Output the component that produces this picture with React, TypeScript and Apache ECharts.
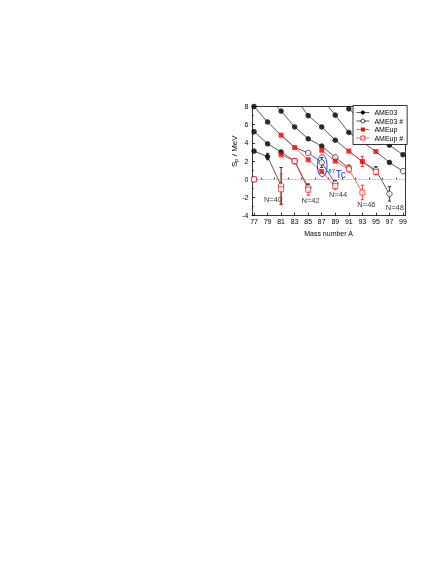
import React, { useEffect, useRef } from "react";
import * as echarts from "echarts";

const FONT = '"Liberation Sans", Arial, Helvetica, sans-serif';

// x-axis tick labels (odd mass numbers) and minor tick positions
const massTicks = [77, 79, 81, 83, 85, 87, 89, 91, 93, 95, 97, 99];
const massMinorTicks = [78, 80, 82, 84, 86, 88, 90, 92, 94, 96, 98];

// AME03 isotone chains: [A, Sp (MeV), kind]; kind 0 = measured, 1 = estimated (#), 2 = on the line only (covered / off scale)
const ame03N38 = [[77, 0.0, 1]];
const ame03N40 = [[77, 3.1, 0], [79, 2.5, 0], [81, -0.7, 1]];
const ame03N42 = [[77, 5.25, 0], [79, 3.9, 0], [81, 3.0, 0], [83, 2.0, 1], [85, -0.9, 1]];
const ame03N44 = [[77, 8.0, 0], [79, 6.3, 0], [81, 4.85, 2], [83, 3.5, 2], [85, 2.9, 1], [87, 1.85, 1], [89, -0.45, 1]];
const ame03N46 = [[79, 9.1, 2], [81, 7.5, 0], [83, 5.75, 0], [85, 4.45, 0], [87, 3.65, 0], [89, 2.4, 1], [91, 1.25, 1]];
const ame03N48 = [[83, 9.0, 2], [85, 7.0, 0], [87, 5.75, 0], [89, 4.3, 0], [91, 3.1, 2], [93, 1.95, 2], [95, 1.0, 1], [97, -1.6, 1]];
const ame03N50 = [[87, 8.9, 2], [89, 7.05, 0], [91, 5.15, 0], [93, 4.1, 2], [95, 3.05, 2], [97, 1.85, 0], [99, 0.9, 1]];
const ame03N52 = [[89, 9.3, 2], [91, 7.75, 0], [93, 6.4, 2], [95, 5.0, 2], [97, 3.75, 0], [99, 2.7, 0]];

// AMEup isotone chains
const ameUpN38 = [[77, 0.0, 1]];
const ameUpN40 = [[81, -1.1, 1]];
const ameUpN42 = [[81, 2.7, 0], [83, 2.0, 1], [85, -1.15, 1]];
const ameUpN44 = [[81, 4.85, 0], [83, 3.5, 0], [85, 2.15, 0], [87, 0.85, 0], [89, -0.75, 1]];
const ameUpN46 = [[87, 3.2, 0], [89, 2.0, 0], [91, 1.1, 1], [93, -1.45, 1]];
const ameUpN48 = [[91, 3.1, 0], [93, 1.95, 0], [95, 0.8, 1]];
const ameUpN50 = [[95, 3.05, 0]];

// error bars: [A, Sp, uncertainty]
const ame03Errors = [[79, 2.5, 0.35], [81, -0.7, 2.0], [85, -0.9, 0.4], [87, 1.85, 0.55], [89, -0.45, 0.3], [91, 1.25, 0.3], [95, 1.0, 0.4], [97, -1.6, 0.8]];
const ameUpErrors = [[81, -1.1, 1.7], [83, 2.0, 0.3], [85, -1.15, 0.6], [89, -0.75, 0.35], [91, 1.1, 0.3], [93, 1.95, 0.55], [93, -1.45, 0.8], [95, 0.8, 0.3]];

// chain labels anchored in data coordinates
const chainLabelText = ["N=40", "N=42", "N=44", "N=46", "N=48"];
const chainLabelA = [79.8, 85.35, 89.4, 93.6, 97.8];
const chainLabelSp = [-2.2, -2.35, -1.65, -2.75, -3.1];

// 87Tc annotation anchor
const tcAnchor = [87.07, 1.5];

const ame03Chains = [ame03N38, ame03N40, ame03N42, ame03N44, ame03N46, ame03N48, ame03N50, ame03N52];
const ameUpChains = [ameUpN38, ameUpN40, ameUpN42, ameUpN44, ameUpN46, ameUpN48, ameUpN50];

const BLACK = "#000000";
const RED = "#ff0000";
const BLUE = "#2233ee";

function chainLines(chains: number[][][], color: string, z: number) {
  return chains.map((ch) => ({
    type: "line",
    data: ch.map((p) => [p[0], p[1]]),
    symbol: "none",
    showSymbol: false,
    silent: true,
    z,
    lineStyle: { color, width: 0.75 },
  }));
}

function pick(chains: number[][][], kind: number) {
  const out: number[][] = [];
  chains.forEach((ch) => ch.forEach((p) => { if (p[2] === kind) out.push([p[0], p[1]]); }));
  return out;
}

function errorSeries(data: number[][], color: string, z: number) {
  return {
    type: "custom",
    data,
    silent: true,
    z,
    encode: { x: 0, y: 1 },
    renderItem: (_params: any, api: any) => {
      const x = api.value(0);
      const y = api.value(1);
      const e = api.value(2);
      const hi = api.coord([x, y + e]);
      const lo = api.coord([x, y - e]);
      const w = 1.6;
      const st = { stroke: color, lineWidth: 0.8 };
      return {
        type: "group",
        children: [
          { type: "line", shape: { x1: hi[0], y1: hi[1], x2: lo[0], y2: lo[1] }, style: st },
          { type: "line", shape: { x1: hi[0] - w, y1: hi[1], x2: hi[0] + w, y2: hi[1] }, style: st },
          { type: "line", shape: { x1: lo[0] - w, y1: lo[1], x2: lo[0] + w, y2: lo[1] }, style: st },
        ],
      };
    },
  };
}

const X_MIN = 76.7;
const X_MAX = 99.3;

function buildOption() {
  const series: any[] = [];
  series.push(...chainLines(ame03Chains, "#222222", 2));
  series.push(...chainLines(ameUpChains, "#ff3333", 3));
  series.push(errorSeries(ame03Errors, BLACK, 4));
  series.push(errorSeries(ameUpErrors, RED, 4));
  series.push({
    type: "scatter",
    data: pick(ame03Chains, 0),
    symbol: "circle",
    symbolSize: 5.5,
    silent: true,
    z: 5,
    itemStyle: { color: BLACK },
    markLine: {
      silent: true,
      symbol: "none",
      label: { show: false },
      lineStyle: { type: "dotted", color: "#8a8a8a", width: 0.8 },
      data: [{ yAxis: 0 }],
    },
  });
  series.push({
    type: "scatter",
    data: pick(ame03Chains, 1),
    symbol: "circle",
    symbolSize: 5.5,
    silent: true,
    z: 5,
    itemStyle: { color: "#ffffff", borderColor: BLACK, borderWidth: 0.8 },
  });
  series.push({
    type: "scatter",
    data: pick(ameUpChains, 0),
    symbol: "rect",
    symbolSize: 5,
    silent: true,
    z: 6,
    itemStyle: { color: RED },
  });
  series.push({
    type: "scatter",
    data: pick(ameUpChains, 1),
    symbol: "rect",
    symbolSize: 5,
    silent: true,
    z: 6,
    itemStyle: { color: "#ffffff", borderColor: RED, borderWidth: 0.8 },
  });
  series.push({
    type: "scatter",
    data: chainLabelText.map((t, i) => ({ name: t, value: [chainLabelA[i], chainLabelSp[i]] })),
    symbolSize: 0,
    silent: true,
    z: 7,
    label: {
      show: true,
      position: "inside",
      formatter: (p: any) => p.name,
      fontSize: 7.5,
      fontFamily: FONT,
      color: BLACK,
    },
  });
  // legend-only series
  series.push({ type: "line", name: "AME03", data: [], symbol: "circle", symbolSize: 4.5, itemStyle: { color: BLACK, borderWidth: 0 }, lineStyle: { color: "#222", width: 0.75 } });
  series.push({ type: "line", name: "AME03 #", data: [], symbol: "circle", symbolSize: 4.5, itemStyle: { color: "#fff", borderColor: BLACK, borderWidth: 0.8 }, lineStyle: { color: "#222", width: 0.75 } });
  series.push({ type: "line", name: "AMEup", data: [], symbol: "rect", symbolSize: 4.5, itemStyle: { color: RED, borderWidth: 0 }, lineStyle: { color: "#ff3333", width: 0.75 } });
  series.push({ type: "line", name: "AMEup #", data: [], symbol: "rect", symbolSize: 4.5, itemStyle: { color: "#fff", borderColor: RED, borderWidth: 0.8 }, lineStyle: { color: "#ff3333", width: 0.75 } });

  const axisLine = { show: true, onZero: false, lineStyle: { color: BLACK, width: 0.8 } };
  return {
    animation: false,
    grid: { left: 252, top: 106.5, width: 153, height: 109.2, containLabel: false },
    legend: {
      orient: "vertical",
      left: 353,
      top: 105.5,
      z: 20,
      selectedMode: false,
      itemWidth: 13,
      itemHeight: 5,
      itemGap: 1.5,
      padding: [3.5, 4, 3, 3],
      backgroundColor: "#ffffff",
      borderColor: BLACK,
      borderWidth: 0.8,
      lineStyle: { width: 0.75 },
      textStyle: { fontSize: 7, fontFamily: FONT, color: BLACK, lineHeight: 7 },
      data: [
        { name: "AME03", itemStyle: { borderWidth: 0 } },
        { name: "AME03 #", itemStyle: { borderWidth: 0.8 } },
        { name: "AMEup", itemStyle: { borderWidth: 0 } },
        { name: "AMEup #", itemStyle: { borderWidth: 0.8 } },
      ],
    },
    xAxis: [
      {
        type: "value",
        position: "bottom",
        min: X_MIN,
        max: X_MAX,
        axisLine,
        axisTick: { show: true, inside: true, length: 3, customValues: massTicks, lineStyle: { color: BLACK, width: 0.8 } },
        axisLabel: { customValues: massTicks, fontSize: 7, fontFamily: FONT, color: BLACK, margin: 2.5 },
        splitLine: { show: false },
        name: "Mass number A",
        nameLocation: "middle",
        nameGap: 14.5,
        nameTextStyle: { fontSize: 7, fontFamily: FONT, color: BLACK },
      },
      {
        type: "value",
        position: "bottom",
        min: X_MIN,
        max: X_MAX,
        axisLine: { show: false },
        axisTick: { show: true, inside: true, length: 1.6, customValues: massMinorTicks, lineStyle: { color: BLACK, width: 0.8 } },
        axisLabel: { show: false },
        splitLine: { show: false },
      },
      {
        type: "value",
        position: "top",
        min: X_MIN,
        max: X_MAX,
        axisLine,
        axisTick: { show: false },
        axisLabel: { show: false },
        splitLine: { show: false },
      },
    ],
    yAxis: [
      {
        type: "value",
        min: -4,
        max: 8,
        interval: 2,
        axisLine,
        axisTick: { show: true, inside: true, length: 3, lineStyle: { color: BLACK, width: 0.8 } },
        minorTick: { show: true, splitNumber: 2, length: 1.6, lineStyle: { color: BLACK, width: 0.8 } },
        axisLabel: { fontSize: 7, fontFamily: FONT, color: BLACK, margin: 3.5 },
        splitLine: { show: false },
      },
      {
        type: "value",
        position: "right",
        min: -4,
        max: 8,
        interval: 2,
        axisLine,
        axisTick: { show: false },
        axisLabel: { show: false },
        splitLine: { show: false },
      },
    ],
    series,
  };
}

export default function App() {
  const ref = useRef<HTMLDivElement>(null);
  useEffect(() => {
    if (!ref.current) return;
    const chart = echarts.init(ref.current, null, { renderer: "svg" });
    chart.setOption(buildOption() as any);
    const c = chart.convertToPixel({ gridIndex: 0 } as any, tcAnchor) as unknown as number[];
    const cx = c[0];
    const cy = c[1];
    chart.setOption({
      graphic: [
        {
          type: "ellipse",
          z: 15,
          silent: true,
          shape: { cx, cy, rx: 4.8, ry: 11 },
          style: { fill: "none", stroke: BLUE, lineWidth: 1 },
        },
        {
          type: "text",
          z: 15,
          x: cx + 9.5,
          y: cy + 5,
          style: { text: "87", fontSize: 6, fontFamily: FONT, fill: BLUE, align: "center", verticalAlign: "middle" },
        },
        {
          type: "text",
          z: 15,
          x: cx + 18.5,
          y: cy + 8.5,
          style: { text: "Tc", fontSize: 10, fontFamily: FONT, fill: BLUE, align: "center", verticalAlign: "middle" },
        },
        {
          type: "group",
          x: 234,
          y: 151.5,
          rotation: Math.PI / 2,
          children: [
            { type: "text", x: -15.5, y: 0, style: { text: "S", fontSize: 8, fontFamily: FONT, fill: BLACK, align: "left", verticalAlign: "middle" } },
            { type: "text", x: -10.2, y: 2.2, style: { text: "p", fontSize: 5.5, fontFamily: FONT, fill: BLACK, align: "left", verticalAlign: "middle" } },
            { type: "text", x: -7.0, y: 0, style: { text: " / MeV", fontSize: 8, fontFamily: FONT, fill: BLACK, align: "left", verticalAlign: "middle" } },
          ],
        },
      ],
    });
    return () => chart.dispose();
  }, []);
  return (
    <div
      ref={ref}
      style={{ position: "absolute", left: 0, top: 0, width: 436, height: 564, willChange: "transform" }}
    />
  );
}
